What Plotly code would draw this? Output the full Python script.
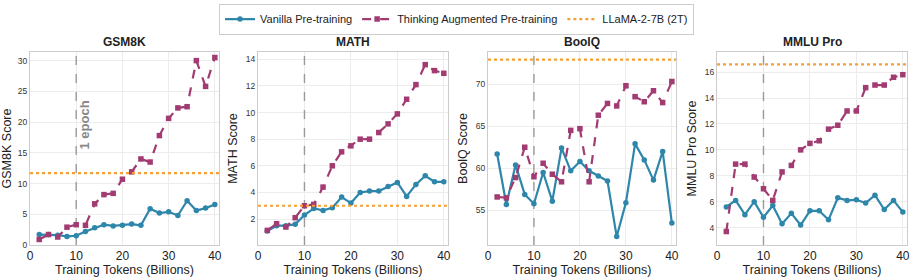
import plotly.graph_objects as go

tokens = [2, 4, 6, 8, 10, 12, 14, 16, 18, 20, 22, 24, 26, 28, 30, 32, 34, 36, 38, 40]

gsm8k_vanilla = [1.7, 1.7, 1.6, 1.4, 1.5, 2.2, 2.8, 3.3, 3.1, 3.2, 3.4, 3.2, 5.9, 5.2, 5.4, 4.8, 7.2, 5.6, 6.0, 6.6]
gsm8k_thinking = [0.9, 1.7, 1.3, 2.9, 3.3, 3.2, 6.7, 8.2, 8.4, 10.7, 11.9, 14.0, 13.5, 17.8, 20.6, 22.3, 22.5, 30.0, 25.8, 30.5]
gsm8k_llama = 11.7

math_vanilla = [1.1, 1.5, 1.5, 1.6, 2.3, 2.8, 2.65, 2.85, 3.65, 3.2, 4.0, 4.1, 4.1, 4.45, 4.75, 3.7, 4.6, 5.25, 4.8, 4.8]
math_thinking = [1.15, 1.65, 1.4, 2.1, 3.0, 3.1, 4.4, 6.0, 7.05, 7.5, 8.0, 8.0, 8.5, 9.15, 9.9, 11.0, 12.1, 13.6, 13.15, 12.95]
math_llama = 3.0

boolq_vanilla = [61.7, 55.7, 60.4, 56.9, 55.8, 59.5, 56.1, 62.4, 59.7, 60.8, 59.7, 59.1, 58.5, 51.9, 55.9, 62.9, 61.0, 58.6, 62.0, 53.5]
boolq_thinking = [56.6, 56.5, 58.9, 62.5, 59.0, 60.6, 59.3, 58.4, 64.5, 64.7, 58.4, 66.3, 67.7, 67.4, 69.8, 68.5, 67.9, 69.2, 67.8, 70.3]
boolq_llama = 72.9

mmlu_vanilla = [5.6, 6.1, 5.0, 6.0, 4.8, 5.7, 4.3, 5.1, 4.2, 5.3, 5.3, 4.6, 6.3, 6.1, 6.15, 5.9, 6.5, 5.4, 6.1, 5.2]
mmlu_thinking = [3.7, 8.9, 8.9, 7.9, 7.0, 6.1, 8.3, 8.8, 10.0, 10.5, 10.7, 11.6, 11.9, 13.0, 13.0, 14.8, 15.0, 15.0, 15.6, 15.8]
mmlu_llama = 16.6

titles = ["GSM8K", "MATH", "BoolQ", "MMLU Pro"]
ytitles = ["GSM8K Score", "MATH Score", "BoolQ Score", "MMLU Pro Score"]
vanilla = [gsm8k_vanilla, math_vanilla, boolq_vanilla, mmlu_vanilla]
thinking = [gsm8k_thinking, math_thinking, boolq_thinking, mmlu_thinking]
llama = [gsm8k_llama, math_llama, boolq_llama, mmlu_llama]
yranges = [[0, 31.4], [0.05, 14.55], [50.9, 73.8], [2.66, 17.55]]
ytickvals = [[0, 5, 10, 15, 20, 25, 30], [2, 4, 6, 8, 10, 12, 14], [55, 60, 65, 70], [4, 6, 8, 10, 12, 14, 16]]
epoch_x = 10
xrange_ = [0, 40.9]

BLUE = "#2E86AB"
MAG = "#A23B72"
ORANGE = "#F5A030"

domains = [[0, 0.2155], [0.26, 0.4766], [0.5222, 0.7366], [0.7834, 1.0]]
FONT = "Liberation Sans, Arial, sans-serif"

fig = go.Figure()
annotations = []
for i in range(4):
    xa = "x" if i == 0 else f"x{i+1}"
    ya = "y" if i == 0 else f"y{i+1}"
    show = i == 0
    # 1-epoch marker line (drawn first so it sits under the data)
    fig.add_trace(go.Scatter(x=[epoch_x, epoch_x], y=yranges[i], mode="lines", showlegend=False, hoverinfo="skip",
                             line=dict(color="#999999", width=1.4, dash="dash"), xaxis=xa, yaxis=ya, cliponaxis=True))
    fig.add_trace(go.Scatter(x=tokens, y=vanilla[i], mode="lines+markers", name="Vanilla Pre-training",
                             line=dict(color=BLUE, width=2.2), marker=dict(symbol="circle", size=5.5, color=BLUE),
                             xaxis=xa, yaxis=ya, showlegend=show, legendrank=1))
    fig.add_trace(go.Scatter(x=tokens, y=thinking[i], mode="lines+markers", name="Thinking Augmented Pre-training",
                             line=dict(color=MAG, width=2.2, dash="dash"), marker=dict(symbol="square", size=5.5, color=MAG),
                             xaxis=xa, yaxis=ya, showlegend=show, legendrank=2))
    fig.add_trace(go.Scatter(x=xrange_, y=[llama[i], llama[i]], mode="lines", name="LLaMA-2-7B (2T)",
                             line=dict(color=ORANGE, width=2.2, dash="dot"),
                             xaxis=xa, yaxis=ya, showlegend=show, legendrank=3, hoverinfo="skip"))
    d = domains[i]
    annotations.append(dict(text=f"<b>{titles[i]}</b>", x=(d[0] + d[1]) / 2, y=1.0, xref="paper", yref="paper",
                            xanchor="center", yanchor="bottom", yshift=1, showarrow=False,
                            font=dict(size=12, color="#222222", family=FONT)))
    axis_common = dict(showline=True, linecolor="#cccccc", linewidth=1, mirror=True, showgrid=True,
                       gridcolor="#ececec", zeroline=False, ticks="", automargin=False)
    fig.update_layout(**{
        ("xaxis" if i == 0 else f"xaxis{i+1}"): dict(domain=d, anchor=ya, range=xrange_, tickvals=[0, 10, 20, 30, 40],
                                                     tickfont=dict(size=12, color="#222222", family=FONT),
                                                     title=dict(text="Training Tokens (Billions)", standoff=2,
                                                                font=dict(size=12.5, color="#222222", family=FONT)),
                                                     **axis_common),
        ("yaxis" if i == 0 else f"yaxis{i+1}"): dict(domain=[0, 1], anchor=xa, range=yranges[i], tickvals=ytickvals[i],
                                                     tickfont=dict(size=8.5, color="#333333", family=FONT),
                                                     title=dict(text=ytitles[i], standoff=5,
                                                                font=dict(size=12.5, color="#222222", family=FONT)),
                                                     **axis_common),
    })

annotations.append(dict(text="<b>1 epoch</b>", x=11.9, y=19.6, xref="x", yref="y", textangle=-90,
                        showarrow=False, font=dict(size=13, color="#888888", family=FONT)))

fig.update_layout(
    width=913, height=278,
    margin=dict(l=30, r=6, t=52, b=33, autoexpand=False),
    paper_bgcolor="white", plot_bgcolor="white",
    annotations=annotations,
    font=dict(family=FONT),
    legend=dict(orientation="h", x=0.5, xanchor="center", xref="container", y=0.987, yanchor="top", yref="container",
                bordercolor="#cccccc", borderwidth=1, bgcolor="white",
                font=dict(size=11, color="#222222", family=FONT), itemwidth=30),
    showlegend=True,
)

fig.write_html("out.html", config={"displayModeBar": False},
               post_script="document.body.style.margin='0';document.body.style.padding='0';")
